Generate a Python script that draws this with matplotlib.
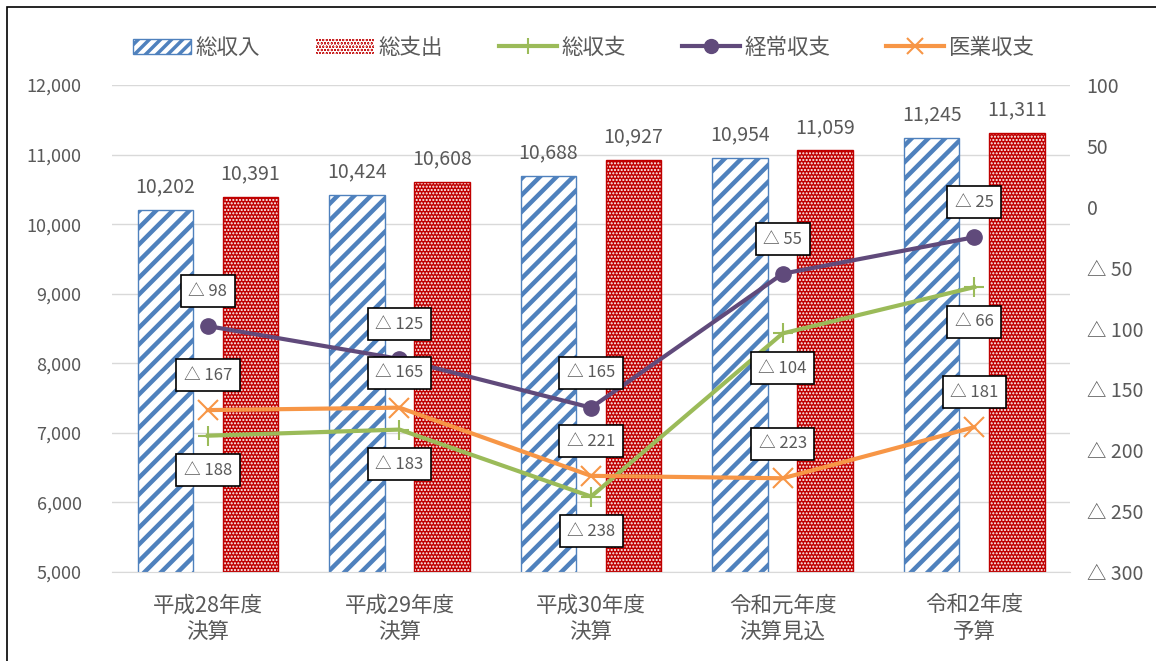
import matplotlib.pyplot as plt
import matplotlib.patches as mpatches
from matplotlib.lines import Line2D
from matplotlib.ticker import FuncFormatter
import numpy as np

plt.rcParams['font.family'] = ['Noto Sans CJK JP', 'DejaVu Sans']

# ----------------------------------------------------------------------
#   Data (百万円)
# ----------------------------------------------------------------------
categories = ['平成28年度\n決算', '平成29年度\n決算', '平成30年度\n決算',
              '令和元年度\n決算見込', '令和2年度\n予算']
total_income  = [10202, 10424, 10688, 10954, 11245]   # 総収入
total_expense = [10391, 10608, 10927, 11059, 11311]   # 総支出
total_balance = [-188, -183, -238, -104, -66]         # 総収支
ordinary_bal  = [-98, -125, -165, -55, -25]           # 経常収支
medical_bal   = [-167, -165, -221, -223, -181]        # 医業収支

# label side for each line's value boxes
balance_side  = ['below', 'below', 'below', 'below', 'below']
ordinary_side = ['above', 'above', 'above', 'above', 'above']
medical_side  = ['above', 'above', 'above', 'above', 'above']

BLUE   = '#4F81BD'
RED    = '#C00000'
GREEN  = '#9BBB59'
PURPLE = '#604A7B'
ORANGE = '#F79646'
TEXT   = '#595959'


def tri(v):
    return f'△ {-v:,}' if v < 0 else f'{v:,}'


def main():
    fig = plt.figure(figsize=(11.56, 6.61), dpi=100)
    ax1 = fig.add_axes([0.097, 0.1346, 0.8286, 0.7368])
    ax2 = ax1.twinx()

    x = np.arange(len(categories))
    w = 0.29
    off = 0.222

    # 総収入: white bars with blue diagonal stripes
    with plt.rc_context({'hatch.linewidth': 3.2}):
        ax1.bar(x - off, total_income, w, color='white', edgecolor=BLUE,
                hatch='//', linewidth=1.0, zorder=2)
    # 総支出: red bars with fine white dots, outline drawn on top
    with plt.rc_context({'hatch.linewidth': 1.0}):
        ax1.bar(x + off, total_expense, w, color=RED, edgecolor='white',
                hatch='.....', linewidth=0, zorder=2)
    ax1.bar(x + off, total_expense, w, fill=False, edgecolor=RED,
            linewidth=1.0, zorder=3)

    for xi, v in zip(x - off, total_income):
        ax1.annotate(f'{v:,}', (xi, v), xytext=(0, 9), textcoords='offset points',
                     ha='center', va='bottom', fontsize=14, color=TEXT)
    for xi, v in zip(x + off, total_expense):
        ax1.annotate(f'{v:,}', (xi, v), xytext=(0, 9), textcoords='offset points',
                     ha='center', va='bottom', fontsize=14, color=TEXT)

    ax1.set_ylim(5000, 12000)
    ax1.set_xlim(-0.5, len(categories) - 0.5)
    ax1.set_yticks(range(5000, 12001, 1000))
    ax1.yaxis.set_major_formatter(FuncFormatter(lambda v, p: f'{int(v):,}'))
    ax1.set_xticks(x)
    ax1.set_xticklabels(categories, fontsize=15.5, color=TEXT, linespacing=1.25)
    ax1.tick_params(axis='y', length=0, labelsize=13, labelcolor=TEXT, pad=22)
    ax1.tick_params(axis='x', length=0, pad=16)
    ax1.grid(axis='y', color='#D9D9D9', linewidth=1.0, zorder=0)
    ax1.set_axisbelow(True)
    for s in ['top', 'left', 'right']:
        ax1.spines[s].set_visible(False)
    ax1.spines['bottom'].set_color('#D9D9D9')

    # balance lines on the secondary axis
    ax2.plot(x, total_balance, color=GREEN, linewidth=3, marker='+',
             markersize=14, markeredgewidth=1.5, zorder=4)
    ax2.plot(x, ordinary_bal, color=PURPLE, linewidth=3, marker='o',
             markersize=11, zorder=4)
    ax2.plot(x, medical_bal, color=ORANGE, linewidth=3, marker='x',
             markersize=14, markeredgewidth=1.5, zorder=4)

    box = dict(boxstyle='square,pad=0.45', facecolor='white',
               edgecolor='black', linewidth=1.2)
    for vals, sides in [(total_balance, balance_side),
                        (ordinary_bal, ordinary_side),
                        (medical_bal, medical_side)]:
        for xi, v, side in zip(x, vals, sides):
            dy = 25 if side == 'above' else -25
            ax2.annotate(tri(v), (xi, v), xytext=(0, dy), textcoords='offset points',
                         ha='center', va='center', fontsize=12, color=TEXT,
                         bbox=box, zorder=6)

    ax2.set_ylim(-300, 100)
    ax2.set_yticks(range(-300, 101, 50))
    ax2.yaxis.set_major_formatter(FuncFormatter(lambda v, p: tri(int(v))))
    ax2.tick_params(axis='y', length=0, labelsize=14, labelcolor=TEXT, pad=12)
    for s in ['top', 'left', 'right', 'bottom']:
        ax2.spines[s].set_visible(False)

    # legend across the top
    handles = [
        mpatches.Patch(facecolor='white', edgecolor=BLUE, hatch='///', linewidth=1.0),
        mpatches.Patch(facecolor=RED, edgecolor='white', hatch='.....', linewidth=0),
        Line2D([], [], color=GREEN, linewidth=3, marker='+', markersize=12, markeredgewidth=1.5),
        Line2D([], [], color=PURPLE, linewidth=3, marker='o', markersize=10),
        Line2D([], [], color=ORANGE, linewidth=3, marker='x', markersize=12, markeredgewidth=1.5),
    ]
    labels = ['総収入', '総支出', '総収支', '経常収支', '医業収支']
    with plt.rc_context({'hatch.linewidth': 2.5}):
        fig.legend(handles, labels, loc='center', bbox_to_anchor=(0.505, 0.928), ncol=5,
                   frameon=False, fontsize=15.5, labelcolor=TEXT, columnspacing=2.6,
                   handlelength=2.7, handletextpad=0.2)

    # outer frame (only top and left edges fall inside the canvas)
    fig.patches.append(mpatches.Rectangle((0.006, -0.05), 1.2, 1.0394,
                                          transform=fig.transFigure, fill=False,
                                          edgecolor='black', linewidth=1.2))

    fig.savefig('out.png', dpi=100)


if __name__ == '__main__':
    main()
